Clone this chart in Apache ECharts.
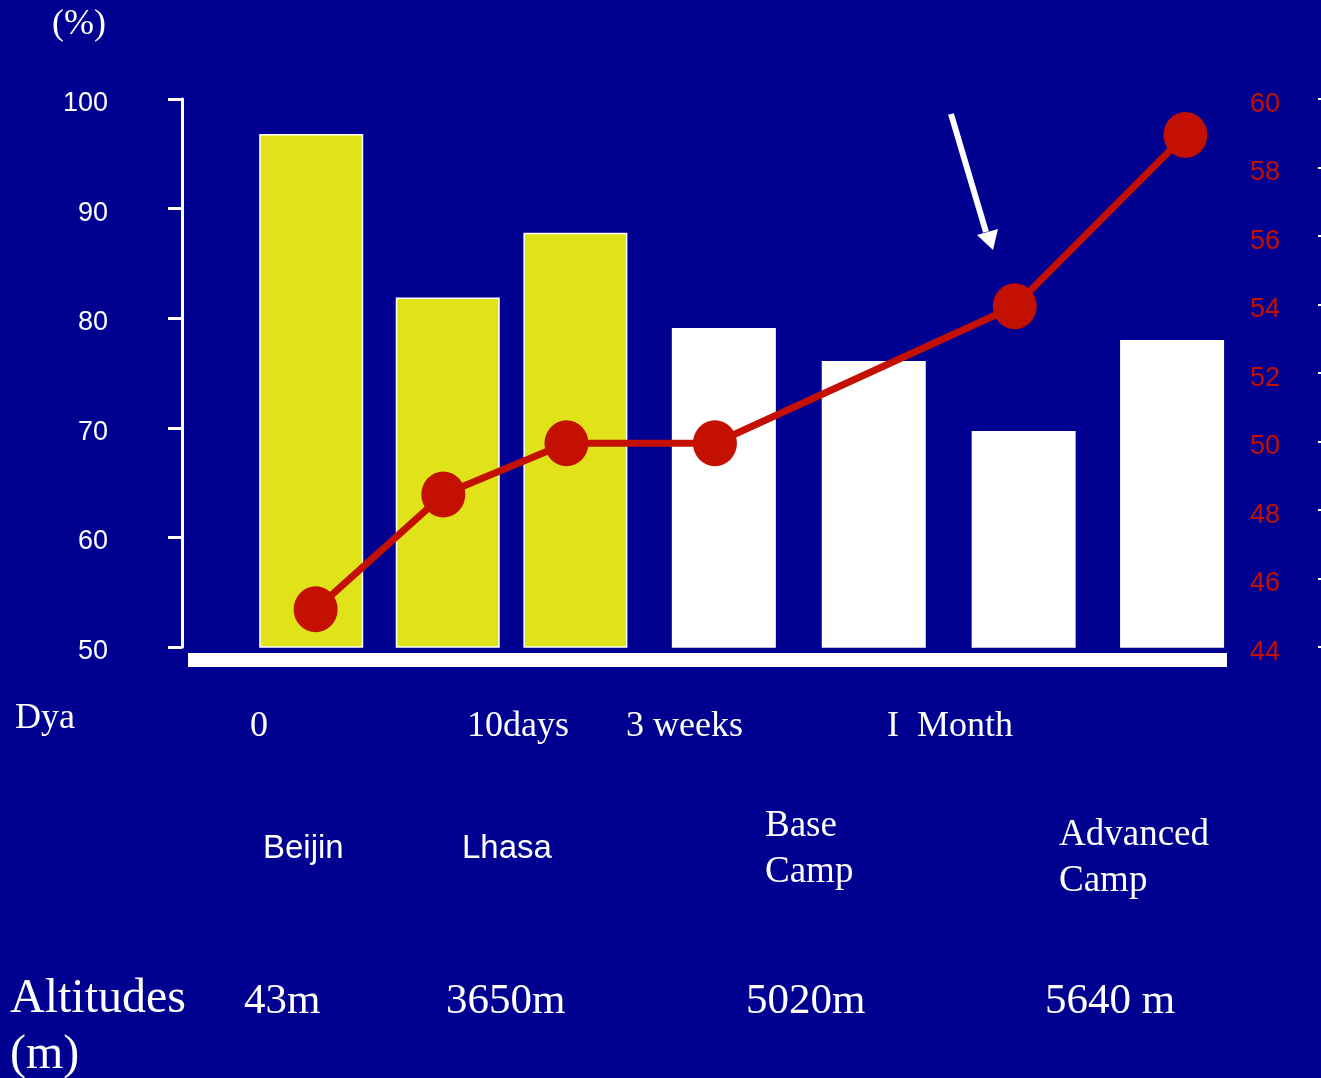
<html>
<head>
  <meta http-equiv="Content-Type" content="text/html; charset=UTF-8">
  <script src="https://cdn.jsdelivr.net/npm/echarts@6/dist/echarts.min.js"></script>
  <style>
    html, body { margin: 0; padding: 0; background: #000091; }
    #div_show_chart { width: 1321px; height: 1078px; }
  </style>
</head>
<body>
<div id="div_show_chart"></div>
<script>
  // bar series: slot position along the time line, and % value (left axis)
  var barPos = [0.83, 1.75, 2.61, 3.61, 4.62, 5.63, 6.63];
  var barValues = [96.8, 81.9, 87.8, 79.1, 76.1, 69.7, 78.0];
  var barIsEarly = [true, true, true, false, false, false, false];
  // line series: position and value (right axis)
  var linePos = [0.86, 1.72, 2.55, 3.55, 5.57, 6.72];
  var lineValues = [45.1, 48.45, 49.95, 49.95, 53.95, 58.95];
  // tick settings
  var leftTicks = { min: 50, max: 100, step: 10 };
  var rightTicks = { min: 44, max: 60, step: 2 };
  // texts under the chart
  var dayLabels = ['0', '10days', '3 weeks', 'I  Month'];
  var placeLabels = ['Beijin', 'Lhasa', 'Base\nCamp', 'Advanced\nCamp'];
  var altitudeLabels = ['43m', '3650m', '5020m', '5640 m'];

  var SERIF = '"Liberation Serif", "Times New Roman", serif';
  var SANS = '"Liberation Sans", Arial, sans-serif';

  var myChart = echarts.init(document.getElementById('div_show_chart'));

  var barData = [];
  for (var i = 0; i < barPos.length; i++) {
    barData.push({
      value: [barPos[i], barValues[i]],
      itemStyle: { color: barIsEarly[i] ? '#e0e21a' : '#ffffff' }
    });
  }
  var lineData = [];
  for (var j = 0; j < linePos.length; j++) {
    lineData.push([linePos[j], lineValues[j]]);
  }

  function txt(s, x, y, size, font, align, lh) {
    return {
      type: 'text', left: x, top: y,
      style: {
        text: s, fill: '#ffffff', font: size + 'px ' + font,
        textAlign: align || 'left', textVerticalAlign: 'middle',
        lineHeight: lh || size
      }
    };
  }

  var dayX = [250, 467, 626, 887];
  var graphics = [
    txt('(%)', 52, 7, 36, SERIF),
    txt('Dya', 15, 701, 36, SERIF),
    txt('Altitudes\n(m)', 10, 971, 48, SERIF, 'left', 56),
    // arrow pointing at the 1 month point
    { type: 'line', shape: { x1: 951, y1: 114, x2: 986, y2: 232 },
      style: { stroke: '#ffffff', lineWidth: 6, lineCap: 'butt' } },
    { type: 'polygon', shape: { points: [[977, 235], [998, 229], [993, 250]] },
      style: { fill: '#ffffff' } }
  ];
  for (var k = 0; k < dayLabels.length; k++) {
    graphics.push(txt(dayLabels[k], dayX[k], 709, 36, SERIF));
  }
  graphics.push(txt(placeLabels[0], 263, 832, 33, SANS));
  graphics.push(txt(placeLabels[1], 462, 832, 33, SANS));
  graphics.push(txt(placeLabels[2], 765, 803, 37, SERIF, 'left', 46));
  graphics.push(txt(placeLabels[3], 1059, 812, 37, SERIF, 'left', 46));
  var altX = [244, 446, 746, 1045];
  for (var m = 0; m < altitudeLabels.length; m++) {
    graphics.push(txt(altitudeLabels[m], altX[m], 980, 43, SERIF));
  }

  var options = {
    backgroundColor: '#000091',
    animation: false,
    grid: { left: 188, right: 94, top: 99, bottom: 431 },
    xAxis: [{
      type: 'value', min: 0, max: 7,
      offset: 13,
      axisLine: { show: true, onZero: false, lineStyle: { color: '#ffffff', width: 14, cap: 'butt' } },
      axisTick: { show: false },
      axisLabel: { show: false },
      splitLine: { show: false }
    }],
    yAxis: [{
      type: 'value', position: 'left', offset: 6,
      min: leftTicks.min, max: leftTicks.max, interval: leftTicks.step,
      axisLine: { show: true, onZero: false, lineStyle: { color: '#ffffff', width: 3 } },
      axisTick: { show: true, length: 14, lineStyle: { color: '#ffffff', width: 3 } },
      axisLabel: { color: '#ffffff', fontSize: 27, fontFamily: SANS, margin: 74,
                   verticalAlign: 'top', lineHeight: 9 },
      splitLine: { show: false }
    }, {
      type: 'value', position: 'right', offset: 91,
      min: rightTicks.min, max: rightTicks.max, interval: rightTicks.step,
      axisLine: { show: false, onZero: false },
      axisTick: { show: true, length: 4, lineStyle: { color: '#ffffff', width: 2 } },
      axisLabel: { inside: true, color: '#c41000', fontSize: 27, fontFamily: SANS, margin: 38,
                   verticalAlign: 'top', lineHeight: 11 },
      splitLine: { show: false }
    }],
    series: [{
      type: 'bar',
      xAxisIndex: 0, yAxisIndex: 0,
      barWidth: 104,
      data: barData,
      itemStyle: { borderColor: '#ffffff', borderWidth: 1.5 },
      z: 2
    }, {
      type: 'line',
      xAxisIndex: 0, yAxisIndex: 1,
      data: lineData,
      symbol: 'circle',
      symbolSize: [44, 46],
      itemStyle: { color: '#c41000' },
      lineStyle: { color: '#c41000', width: 7 },
      z: 5
    }],
    graphic: graphics
  };
  myChart.setOption(options);
</script>
</body>
</html>
